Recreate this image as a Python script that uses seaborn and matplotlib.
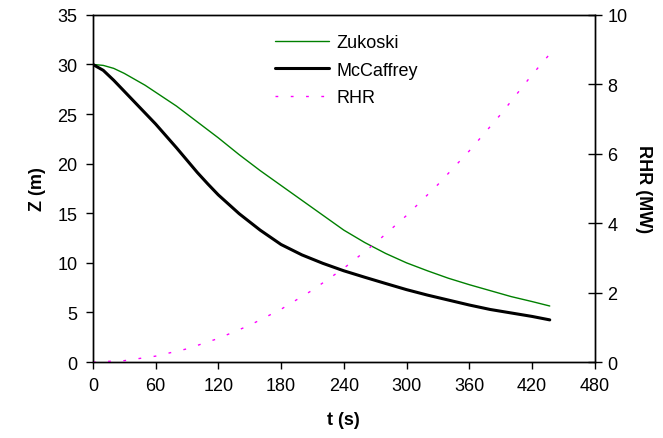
import numpy as np
import pandas as pd
import matplotlib
matplotlib.use("Agg")
import matplotlib.pyplot as plt
import seaborn as sns

# ── Data ──────────────────────────────────────────────────────────────────────
t_z = [0, 10, 20, 30, 40, 50, 60, 70, 80, 90, 100, 110, 120, 140, 160, 180, 200,
       220, 240, 260, 280, 300, 320, 340, 360, 380, 400, 420, 437]
zukoski = [30.0, 29.9, 29.6, 29.1, 28.5, 27.9, 27.2, 26.5, 25.8, 25.0, 24.2, 23.4, 22.6,
           20.9, 19.3, 17.8, 16.3, 14.8, 13.3, 12.05, 10.95, 10.0, 9.2, 8.45, 7.8,
           7.2, 6.6, 6.1, 5.65]
mccaffrey = [30.0, 29.4, 28.4, 27.3, 26.2, 25.1, 24.0, 22.8, 21.6, 20.35, 19.1, 17.95, 16.85,
             14.95, 13.3, 11.85, 10.8, 9.95, 9.2, 8.55, 7.92, 7.3, 6.75, 6.25, 5.75,
             5.3, 4.95, 4.6, 4.25]

t_rhr = [0, 30, 60, 90, 120, 150, 180, 210, 240, 270, 300, 330, 360, 390, 420, 437]
rhr = [0.0, 0.04, 0.17, 0.38, 0.68, 1.06, 1.52, 2.07, 2.70, 3.42, 4.22, 5.11, 6.08,
       7.13, 8.27, 8.87]

x_ticks = [0, 60, 120, 180, 240, 300, 360, 420, 480]

df_z = pd.DataFrame({"t": t_z, "Zukoski": zukoski, "McCaffrey": mccaffrey})
df_r = pd.DataFrame({"t": t_rhr, "RHR": rhr})

# ── Style ─────────────────────────────────────────────────────────────────────
sns.set_style("ticks")
plt.rcParams["font.family"] = ["Liberation Sans", "DejaVu Sans"]
plt.rcParams["text.color"] = "black"
plt.rcParams["axes.labelcolor"] = "black"
plt.rcParams["xtick.color"] = "black"
plt.rcParams["ytick.color"] = "black"

fig = plt.figure(figsize=(6.63, 4.39), dpi=100)
ax = fig.add_axes([0.140, 0.173, 0.757, 0.791])
ax2 = ax.twinx()

sns.lineplot(data=df_z, x="t", y="Zukoski", ax=ax, color="#008000", lw=1.0, label="Zukoski")
sns.lineplot(data=df_z, x="t", y="McCaffrey", ax=ax, color="black", lw=2.2, label="McCaffrey")
sns.lineplot(data=df_r, x="t", y="RHR", ax=ax2, color="#ff00ff", lw=1.0,
             label="RHR", legend=False)
ax2.lines[0].set_dashes((2, 9))

# ── Axes ─────────────────────────────────────────────────────────────────────
ax.set_xlim(0, 480)
ax.set_ylim(0, 35)
ax2.set_ylim(0, 10)
ax.set_xticks(x_ticks)
ax.set_yticks(range(0, 36, 5))
ax2.set_yticks(range(0, 11, 2))

ax.set_xlabel("t (s)", fontweight="bold", fontsize=13, labelpad=12)
ax.set_ylabel("Z (m)", fontweight="bold", fontsize=13, labelpad=8)
ax2.set_ylabel("RHR (MW)", fontweight="bold", fontsize=13, rotation=270, labelpad=18)

for a in (ax, ax2):
    for s in a.spines.values():
        s.set_visible(True)
        s.set_linewidth(1.0)
        s.set_color("black")
ax.tick_params(axis="both", direction="out", length=5, width=1, labelsize=13, pad=6)
ax2.tick_params(axis="y", direction="inout", length=10, width=1, labelsize=13, pad=4)

# legend collects handles from both axes
h1, l1 = ax.get_legend_handles_labels()
h2, l2 = ax2.get_legend_handles_labels()
ax.legend(h1 + h2, l1 + l2, loc="upper left", bbox_to_anchor=(0.33, 0.992), frameon=False,
          fontsize=13, handlelength=3.0, labelspacing=0.6, handletextpad=0.4)

fig.savefig("out.png", dpi=100)
